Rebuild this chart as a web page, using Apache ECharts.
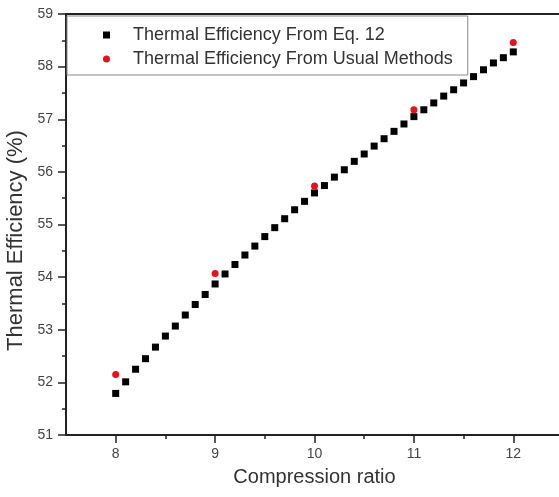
<!DOCTYPE html>
<html>
<head>
<meta charset="utf-8">
<script src="https://cdn.jsdelivr.net/npm/echarts@6/dist/echarts.min.js"></script>
<style>
    html, body { margin: 0; padding: 0; background: #fff; }
    #chart { width: 559px; height: 497px; }
</style>
</head>
<body>
<div id="chart"></div>
<script>
// compression ratio (x) and thermal efficiency (%)
var eqRatio = [8.0, 8.1, 8.2, 8.3, 8.4, 8.5, 8.6, 8.7, 8.8, 8.9,
    9.0, 9.1, 9.2, 9.3, 9.4, 9.5, 9.6, 9.7, 9.8, 9.9,
    10.0, 10.1, 10.2, 10.3, 10.4, 10.5, 10.6, 10.7, 10.8, 10.9,
    11.0, 11.1, 11.2, 11.3, 11.4, 11.5, 11.6, 11.7, 11.8, 11.9, 12.0];
var eqEff = [51.79, 52.01, 52.25, 52.45, 52.67, 52.88, 53.07, 53.28, 53.48, 53.67,
    53.87, 54.06, 54.24, 54.42, 54.59, 54.77, 54.94, 55.11, 55.28, 55.44,
    55.60, 55.74, 55.90, 56.04, 56.20, 56.34, 56.49, 56.63, 56.77, 56.91,
    57.05, 57.18, 57.31, 57.44, 57.56, 57.69, 57.81, 57.94, 58.07, 58.17, 58.28];
var usualRatio = [8, 9, 10, 11, 12];
var usualEff = [52.15, 54.07, 55.73, 57.18, 58.46];

var xTicks = [8, 9, 10, 11, 12];
var xMinorTicks = [8.5, 9.5, 10.5, 11.5];

var nameEq = 'Thermal Efficiency From Eq. 12';
var nameUsual = 'Thermal Efficiency From Usual Methods';

function pairs(xs, ys) {
    return xs.map(function (x, i) { return [x, ys[i]]; });
}

var myChart = echarts.init(document.getElementById('chart'));

var axisColor = '#222';

var option = {
    animation: false,
    textStyle: { fontFamily: 'Liberation Sans, Arial, sans-serif' },
    grid: {
        left: 66, right: -4, top: 14, bottom: 62,
        outerBoundsMode: 'none',
        containLabel: false
    },
    legend: {
        orient: 'vertical',
        left: 67, top: 16,
        padding: [9, 15, 6, 36],
        itemGap: 4,
        itemWidth: 7, itemHeight: 7,
        borderColor: '#888', borderWidth: 1,
        backgroundColor: '#fff',
        textStyle: { fontSize: 18, color: '#333', lineHeight: 20, padding: [0, 0, 0, 18] },
        data: [
            { name: nameEq, icon: 'rect', itemStyle: { color: '#000' } },
            { name: nameUsual, icon: 'circle', itemStyle: { color: '#e8101a' } }
        ]
    },
    xAxis: [{
        type: 'value',
        min: 7.5, max: 12.5,
        name: 'Compression ratio',
        nameLocation: 'middle',
        nameGap: 32,
        nameTextStyle: { fontSize: 20, color: '#333' },
        axisLine: { lineStyle: { color: axisColor, width: 2 } },
        axisTick: { customValues: xTicks, length: 8, lineStyle: { color: axisColor, width: 1.5 } },
        axisLabel: { customValues: xTicks, fontSize: 14, color: '#444', margin: 12 },
        splitLine: { show: false }
    }, {
        // minor ticks at the half steps
        type: 'value',
        min: 7.5, max: 12.5,
        position: 'bottom',
        axisLine: { show: false },
        axisTick: { customValues: xMinorTicks, length: 4, lineStyle: { color: axisColor, width: 1.5 } },
        axisLabel: { show: false },
        splitLine: { show: false }
    }, {
        // top frame line
        type: 'value',
        min: 7.5, max: 12.5,
        position: 'top',
        axisLine: { show: true, lineStyle: { color: axisColor, width: 2 } },
        axisTick: { show: false },
        axisLabel: { show: false },
        splitLine: { show: false }
    }],
    yAxis: {
        type: 'value',
        min: 51, max: 59, interval: 1,
        name: 'Thermal Efficiency (%)',
        nameLocation: 'middle',
        nameGap: 33,
        nameTextStyle: { fontSize: 22, color: '#333', padding: [0, 32, 0, 0] },
        axisLine: { show: true, lineStyle: { color: axisColor, width: 2 } },
        axisTick: { show: true, length: 8, lineStyle: { color: axisColor, width: 1.5 } },
        minorTick: { show: true, splitNumber: 2, length: 4, lineStyle: { color: axisColor, width: 1.5 } },
        axisLabel: { fontSize: 14, color: '#444', margin: 13 },
        splitLine: { show: false }
    },
    series: [{
        name: nameEq,
        type: 'scatter',
        symbol: 'rect',
        symbolSize: 7,
        itemStyle: { color: '#000', opacity: 1 },
        data: pairs(eqRatio, eqEff)
    }, {
        name: nameUsual,
        type: 'scatter',
        symbol: 'circle',
        symbolSize: 7,
        itemStyle: { color: '#e8101a', opacity: 1 },
        data: pairs(usualRatio, usualEff)
    }]
};

myChart.setOption(option);
</script>
</body>
</html>
